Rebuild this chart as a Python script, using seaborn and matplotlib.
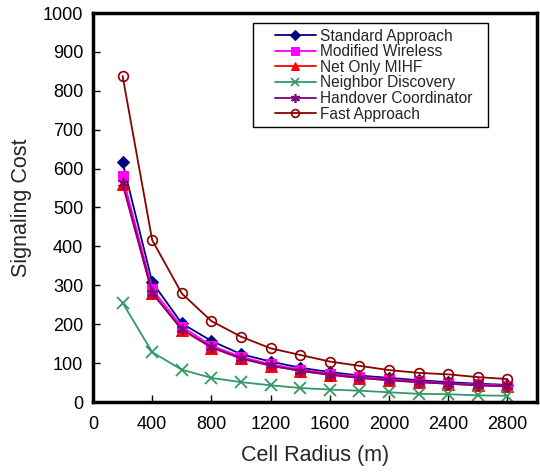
import matplotlib
matplotlib.use("Agg")
import matplotlib.pyplot as plt
from matplotlib.patches import Rectangle
import seaborn as sns

# Cell radius (m)
radius = [200, 400, 600, 800, 1000, 1200, 1400, 1600, 1800, 2000, 2200, 2400, 2600, 2800]

# Signaling cost per scheme
standard = [616, 308, 202, 157, 123, 104, 88, 77, 68, 62, 56, 51, 47, 44]
modified = [581, 290, 194, 145, 116, 97, 83, 73, 65, 58, 53, 48, 45, 42]
net_only = [560, 280, 186, 140, 112, 93, 80, 70, 62, 56, 51, 47, 43, 40]
neighbor = [255, 128, 83, 62, 51, 43, 36, 32, 29, 25, 21, 20, 17, 16]
handover = [563, 281, 187, 141, 112, 94, 80, 70, 62, 56, 51, 47, 43, 40]
fast = [838, 416, 279, 208, 168, 138, 121, 104, 93, 82, 75, 71, 64, 59]

x_ticks = [0, 400, 800, 1200, 1600, 2000, 2400, 2800]
y_ticks = [0, 100, 200, 300, 400, 500, 600, 700, 800, 900, 1000]

sns.set_theme(style="ticks")
plt.rcParams["font.family"] = ["Liberation Sans", "DejaVu Sans"]

fig = plt.figure(figsize=(5.4, 4.73), dpi=100)
ax = fig.add_axes([93 / 540, 71 / 473, 444 / 540, 389 / 473])

series = [
    ("Standard Approach", standard, "#000080", dict(marker="D", ms=6, mfc="#000080", mec="#000080")),
    ("Modified Wireless", modified, "#FF00FF", dict(marker="s", ms=7, mfc="#FF00FF", mec="#FF00FF")),
    ("Net Only MIHF", net_only, "#FF0000", dict(marker="^", ms=8, mfc="#FF0000", mec="#FF0000")),
    ("Neighbor Discovery", neighbor, "#339966", dict(marker="x", ms=8, mew=1.3, mec="#339966")),
    ("Handover Coordinator", handover, "#800080", dict(marker=(6, 2, 0), ms=8, mew=1.2, mec="#800080")),
    ("Fast Approach", fast, "#8B0000", dict(marker="o", ms=7, mfc="none", mec="#8B0000", mew=1.2)),
]

for name, values, color, mk in series:
    sns.lineplot(x=radius, y=values, color=color, lw=1.3, label=name, ax=ax, **mk)

ax.set_xlim(0, 3000)
ax.set_ylim(0, 1000)
ax.set_xticks(x_ticks)
ax.set_yticks(y_ticks)
ax.tick_params(direction="in", length=5, width=1, labelsize=13, colors="black")
ax.tick_params(axis="x", pad=10)
ax.tick_params(axis="y", pad=7)
for s in ax.spines.values():
    s.set_linewidth(2.5)
    s.set_color("black")

ax.set_xlabel("Cell Radius (m)", fontsize=15.5, labelpad=9)
ax.set_ylabel("Signaling Cost", fontsize=15.5, labelpad=8)

# legend box with extra room on the left of the handles
ax.add_patch(Rectangle((0.360, 0.707), 0.530, 0.267, transform=ax.transAxes,
                       facecolor="white", edgecolor="black", lw=1.0, zorder=4))
leg = ax.legend(loc="upper right", bbox_to_anchor=(0.869, 0.976), borderaxespad=0,
                fontsize=11.2, frameon=False, handlelength=2.6, borderpad=0.4,
                labelspacing=0.04, handletextpad=0.3, markerscale=0.8)
leg.set_zorder(5)

fig.savefig("out.png", dpi=100)
